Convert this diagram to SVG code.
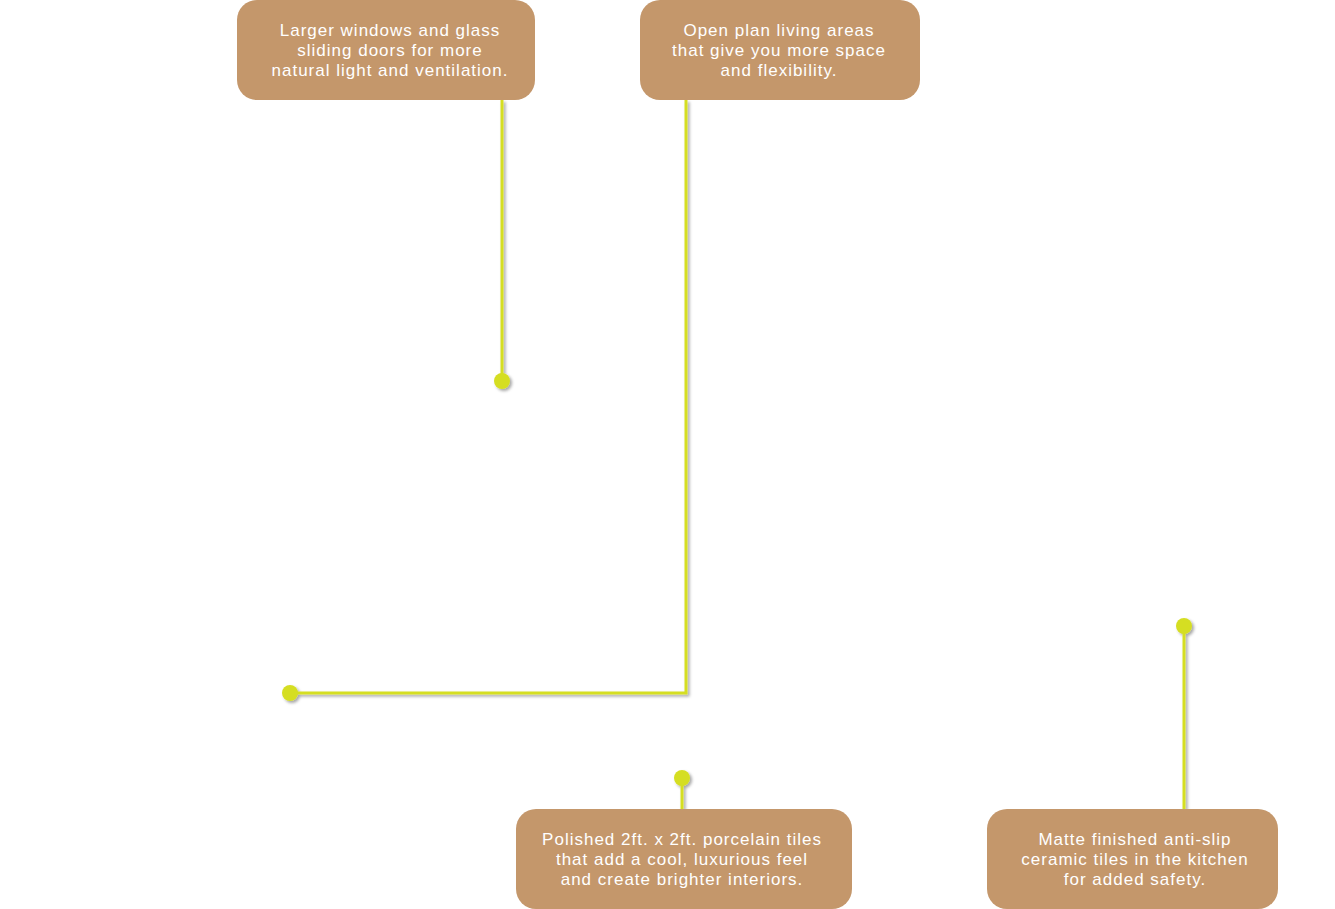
<svg xmlns="http://www.w3.org/2000/svg" width="1335" height="909" viewBox="0 0 1335 909">
<defs>
<filter id="sh" filterUnits="userSpaceOnUse" x="0" y="0" width="1335" height="909">
<feDropShadow dx="2" dy="2" stdDeviation="1.5" flood-color="#000" flood-opacity="0.35"/>
</filter>
</defs>
<style>
.box{fill:#C4976B;}
.t{font-family:"Liberation Sans",Arial,sans-serif;font-size:17px;letter-spacing:1px;fill:#fff;text-anchor:middle;}
.ln{fill:none;stroke:#D5DE22;stroke-width:3;}
.dot{fill:#D5DE22;}
</style>
<rect width="1335" height="909" fill="#fff"/>
<g id="connectors" filter="url(#sh)">
<path class="ln" d="M502,100 V381"/>
<path class="ln" d="M686,100 V693 H290"/>
<path class="ln" d="M682,778 V809"/>
<path class="ln" d="M1184,626 V809"/>
<circle class="dot" cx="502" cy="381" r="8"/>
<circle class="dot" cx="290" cy="693" r="8"/>
<circle class="dot" cx="682" cy="778" r="8"/>
<circle class="dot" cx="1184" cy="626" r="8"/>
</g>
<g id="node1">
<rect class="box" x="237" y="0" width="298" height="100" rx="20"/>
<text class="t" x="390" y="36">Larger windows and glass</text>
<text class="t" x="390" y="56">sliding doors for more</text>
<text class="t" x="390" y="76">natural light and ventilation.</text>
</g>
<g id="node2">
<rect class="box" x="640" y="0" width="280" height="100" rx="20"/>
<text class="t" x="779" y="36">Open plan living areas</text>
<text class="t" x="779" y="56">that give you more space</text>
<text class="t" x="779" y="76">and flexibility.</text>
</g>
<g id="node3">
<rect class="box" x="516" y="809" width="336" height="100" rx="20"/>
<text class="t" x="682" y="845">Polished 2ft. x 2ft. porcelain tiles</text>
<text class="t" x="682" y="865">that add a cool, luxurious feel</text>
<text class="t" x="682" y="885">and create brighter interiors.</text>
</g>
<g id="node4">
<rect class="box" x="987" y="809" width="291" height="100" rx="20"/>
<text class="t" x="1135" y="845">Matte finished anti-slip</text>
<text class="t" x="1135" y="865">ceramic tiles in the kitchen</text>
<text class="t" x="1135" y="885">for added safety.</text>
</g>
</svg>
